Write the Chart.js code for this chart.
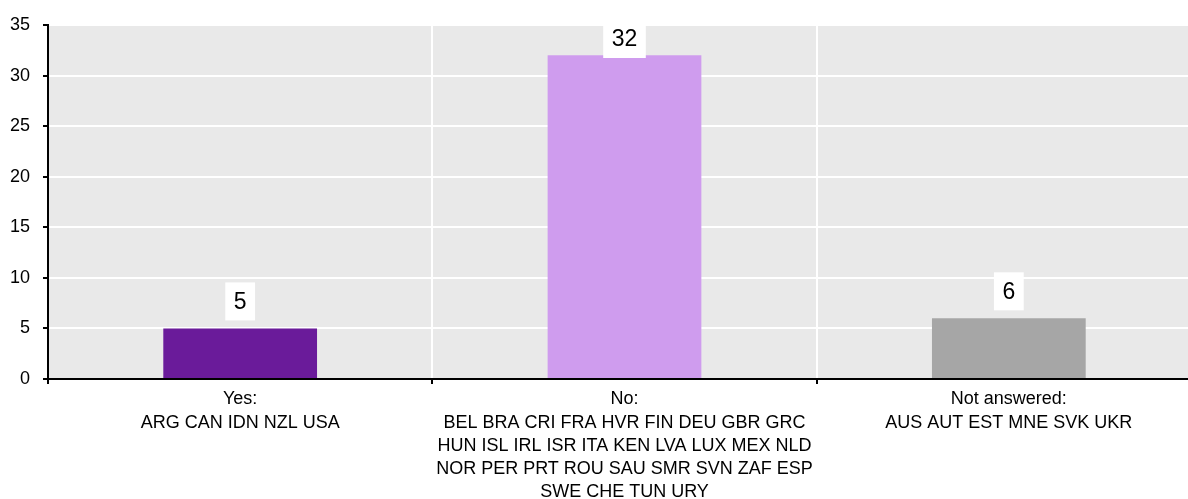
<!DOCTYPE html>
<html>
<head>
<meta charset="utf-8">
<script src="https://cdn.jsdelivr.net/npm/chart.js@4.4.1/dist/chart.umd.min.js"></script>
<style>
  html, body { margin: 0; padding: 0; background: #fff; overflow: hidden; }
  #wrap { width: 1201px; height: 499px; position: relative; }
</style>
</head>
<body>
<div id="wrap"><canvas id="chart"></canvas></div>
<script>
// answer groups and the countries listed under each
const categories = ['Yes:', 'No:', 'Not answered:'];
const countryLines = [
  ['ARG CAN IDN NZL USA'],
  ['BEL BRA CRI FRA HVR FIN DEU GBR GRC', 'HUN ISL IRL ISR ITA KEN LVA LUX MEX NLD', 'NOR PER PRT ROU SAU SMR SVN ZAF ESP', 'SWE CHE TUN URY'],
  ['AUS AUT EST MNE SVK UKR']
];
const counts = [5, 32, 6];
const barColors = ['#6a1b9a', '#cf9cee', '#a6a6a6'];

const FONT = "'Liberation Sans Narrow', 'Arial Narrow', 'Liberation Sans', Arial, sans-serif";

// grey plot background
const plotBg = {
  id: 'plotBg',
  beforeDraw(chart) {
    const { ctx, chartArea: a } = chart;
    ctx.save();
    ctx.fillStyle = '#e9e9e9';
    ctx.fillRect(a.left, a.top, a.right - a.left, a.bottom - a.top);
    ctx.restore();
  }
};

// value in a white box above each bar
const boxLabels = {
  id: 'boxLabels',
  afterDatasetsDraw(chart) {
    const { ctx, chartArea } = chart;
    const meta = chart.getDatasetMeta(0);
    ctx.save();
    ctx.font = '23px ' + FONT;
    ctx.textAlign = 'center';
    ctx.textBaseline = 'middle';
    meta.data.forEach((bar, i) => {
      const txt = String(counts[i]);
      const w = ctx.measureText(txt).width + 17;
      const h = 38;
      let top = bar.y - 8 - h;
      if (top < chartArea.top - 5) top = chartArea.top - 5;
      ctx.fillStyle = '#fff';
      ctx.fillRect(bar.x - w / 2, top, w, h);
      ctx.fillStyle = '#000';
      ctx.fillText(txt, bar.x, top + h / 2 + 1);
    });
    ctx.restore();
  }
};

new Chart(document.getElementById('chart'), {
  type: 'bar',
  data: {
    labels: categories.map((c, i) => [c].concat(countryLines[i])),
    datasets: [{
      data: counts,
      backgroundColor: barColors,
      barPercentage: 0.4,
      categoryPercentage: 1
    }]
  },
  options: {
    responsive: true,
    maintainAspectRatio: false,
    animation: false,
    layout: { padding: { top: 25, right: 0, left: 0, bottom: 0 } },
    plugins: { legend: { display: false }, tooltip: { enabled: false } },
    scales: {
      x: {
        afterFit(scale) { scale.height = 120; },
        grid: { color: '#fff', lineWidth: 2, tickColor: '#000', tickLength: 5, offset: true },
        border: { color: '#000', width: 2 },
        ticks: { color: '#000', font: { family: FONT, size: 18, lineHeight: 1.28 }, padding: 4, maxRotation: 0, autoSkip: false }
      },
      y: {
        min: 0,
        max: 35,
        afterFit(scale) { scale.width = 48; },
        grid: { color: '#fff', lineWidth: 2, tickColor: '#000', tickLength: 5 },
        border: { color: '#000', width: 2 },
        ticks: { stepSize: 5, color: '#000', font: { family: FONT, size: 18 }, padding: 13 }
      }
    }
  },
  plugins: [plotBg, boxLabels]
});
</script>
</body>
</html>
